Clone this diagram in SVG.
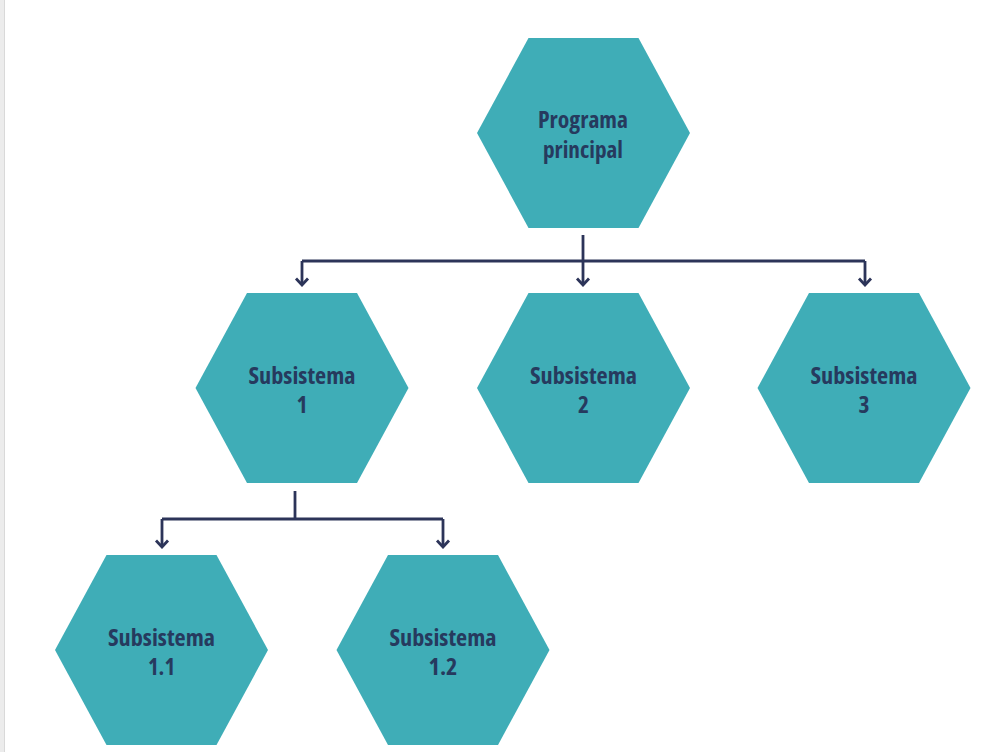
<svg xmlns="http://www.w3.org/2000/svg" width="988" height="752" viewBox="0 0 988 752">
<defs>
<marker id="arr" viewBox="-9 -8 11 16" refX="0" refY="0" markerWidth="11" markerHeight="16" markerUnits="userSpaceOnUse" orient="auto">
<path d="M-6.5,-6 L0,0 L-6.5,6" fill="none" stroke="#2c3459" stroke-width="2.8" stroke-linejoin="miter"/>
</marker>
<polygon id="hex" points="-55,-95 55,-95 106.5,0 55,95 -55,95 -106.5,0"/>
</defs>
<style>
.hex{fill:#3fadb7}
.lbl{font-family:"Open Sans","Liberation Sans",sans-serif;font-weight:bold;font-size:23.5px;fill:#263a5e;text-anchor:middle;font-stretch:condensed}
.conn path{fill:none;stroke:#2c3459;stroke-width:2.8}
</style>
<rect x="0" y="0" width="988" height="752" fill="#ffffff"/>
<rect x="0" y="0" width="4" height="752" fill="#ececec"/>
<rect x="4" y="0" width="1" height="752" fill="#d9d9d9"/>
<g class="conn" id="connectors">
<path d="M583,235 V261"/>
<path d="M302,261 H865"/>
<path d="M302,261 V285" marker-end="url(#arr)"/>
<path d="M583,261 V285" marker-end="url(#arr)"/>
<path d="M865,261 V285" marker-end="url(#arr)"/>
<path d="M295,491 V519"/>
<path d="M162,519 H443"/>
<path d="M162,519 V547" marker-end="url(#arr)"/>
<path d="M443,519 V547" marker-end="url(#arr)"/>
</g>
<g id="programa">
<use href="#hex" class="hex" x="583.5" y="133"/>
<text class="lbl" x="583" y="128" textLength="90" lengthAdjust="spacingAndGlyphs">Programa</text>
<text class="lbl" x="583" y="158" textLength="80" lengthAdjust="spacingAndGlyphs">principal</text>
</g>
<g id="sub1">
<use href="#hex" class="hex" x="302" y="388"/>
<text class="lbl" x="302" y="384" textLength="107" lengthAdjust="spacingAndGlyphs">Subsistema</text>
<text class="lbl" x="302" y="413">1</text>
</g>
<g id="sub2">
<use href="#hex" class="hex" x="583.5" y="388"/>
<text class="lbl" x="583.5" y="384" textLength="107" lengthAdjust="spacingAndGlyphs">Subsistema</text>
<text class="lbl" x="583.5" y="413">2</text>
</g>
<g id="sub3">
<use href="#hex" class="hex" x="864" y="388"/>
<text class="lbl" x="864" y="384" textLength="107" lengthAdjust="spacingAndGlyphs">Subsistema</text>
<text class="lbl" x="864" y="413">3</text>
</g>
<g id="sub11">
<use href="#hex" class="hex" x="161.5" y="650"/>
<text class="lbl" x="161.5" y="646" textLength="107" lengthAdjust="spacingAndGlyphs">Subsistema</text>
<text class="lbl" x="161.5" y="675" textLength="27" lengthAdjust="spacingAndGlyphs">1.1</text>
</g>
<g id="sub12">
<use href="#hex" class="hex" x="443" y="650"/>
<text class="lbl" x="443" y="646" textLength="107" lengthAdjust="spacingAndGlyphs">Subsistema</text>
<text class="lbl" x="443" y="675" textLength="29" lengthAdjust="spacingAndGlyphs">1.2</text>
</g>
</svg>
